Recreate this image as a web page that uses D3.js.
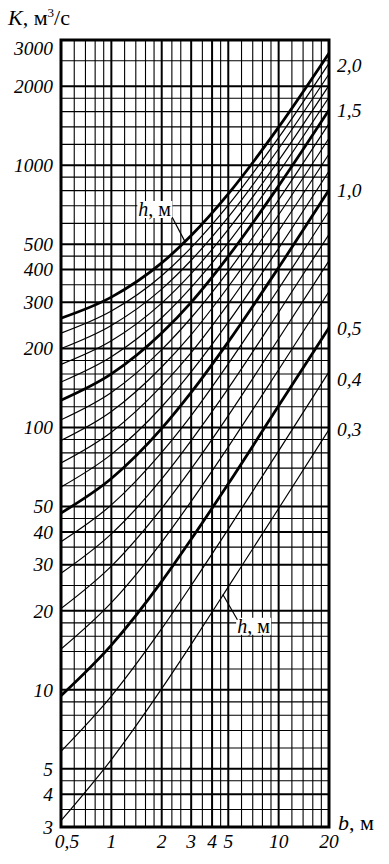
<!DOCTYPE html>
<html lang="ru">
<head>
  <meta charset="UTF-8">
  <title>K(b, h)</title>
  <script src="https://d3js.org/d3.v7.min.js"></script>
  <style>
    html, body { margin: 0; padding: 0; background: #fff; }
    text { font-family: "Liberation Serif", "DejaVu Serif", serif; fill: #000; }
    .num { font-style: italic; font-size: 19.5px; }
    .grid { stroke: #000; fill: none; }
    .curve { fill: none; stroke: #000; stroke-linejoin: round; }
  </style>
</head>
<body>
<script>
  // b, м - ширина по дну
  const bValues = [0.5, 1, 2, 3, 5, 10, 20];
  // h, м - глубина, по кривой на каждое значение
  const hValues = [0.3, 0.4, 0.5, 0.6, 0.7, 0.8, 0.9, 1.0, 1.1, 1.2, 1.3, 1.4, 1.5, 1.6, 1.7, 1.8, 1.9, 2.0];
  // K, м3/с (строка на каждое h, столбец на каждое b)
  const kValues = [
    [3.17, 5.42, 10.1, 14.9, 24.7, 49.1, 98.2],
    [5.83, 9.47, 17.1, 25.0, 41.0, 81.5, 163],
    [9.49, 14.8, 25.9, 37.5, 61.0, 121, 240],
    [14.3, 21.5, 36.6, 52.3, 84.4, 166, 330],
    [20.4, 29.6, 49.2, 69.5, 111, 218, 432],
    [27.8, 39.3, 63.7, 89.2, 141, 275, 545],
    [36.7, 50.7, 80.4, 111, 175, 338, 669],
    [47.2, 63.9, 99.2, 136, 212, 407, 804],
    [59.3, 79.0, 120, 163, 252, 482, 949],
    [73.3, 96.0, 144, 193, 296, 562, 1103],
    [89.2, 115, 170, 226, 344, 647, 1267],
    [107, 136, 198, 262, 394, 738, 1440],
    [127, 160, 229, 300, 449, 834, 1623],
    [149, 186, 262, 342, 507, 936, 1815],
    [174, 214, 298, 386, 569, 1042, 2016],
    [200, 245, 337, 434, 634, 1155, 2226],
    [229, 278, 379, 485, 704, 1273, 2444],
    [261, 314, 424, 539, 777, 1396, 2671]
  ];
  const boldH = [0.5, 1.0, 1.5, 2.0];

  // подписи кривых справа
  const hLabelValues = [2.0, 1.5, 1.0, 0.5, 0.4, 0.3];
  const hLabels = ['2,0', '1,5', '1,0', '0,5', '0,4', '0,3'];

  // деления осей
  const xTicks = [0.5, 1, 2, 3, 4, 5, 10, 20];
  const xTickLabels = ['0,5', '1', '2', '3', '4', '5', '10', '20'];
  const xMinor = [0.6, 0.7, 0.8, 0.9, 1.2, 1.4, 1.6, 1.8, 2.3, 2.6, 3.5, 4.5, 6, 7, 8, 9, 12, 14, 16, 18];
  const yTicks = [3, 4, 5, 10, 20, 30, 40, 50, 100, 200, 300, 400, 500, 1000, 2000, 3000];
  const yMinor = [3.5, 4.5, 6, 7, 8, 9, 12, 14, 16, 18, 25, 35, 45, 60, 70, 80, 90,
                  120, 140, 160, 180, 250, 350, 450, 600, 700, 800, 900, 1200, 1400, 1600, 1800, 2500];

  const W = 389, H = 864;
  const margin = {top: 40, left: 61, right: 60, bottom: 37};

  const svg = d3.select('body').append('svg').attr('width', W).attr('height', H);

  const x = d3.scaleLog().domain([0.5, 20]).range([margin.left, W - margin.right]);
  const y = d3.scaleLog().domain([3, 3000]).range([H - margin.bottom, margin.top]);
  const [x0, x1] = x.range();
  const [y0, y1] = [y(3000), y(3)];

  // сетка
  const grid = svg.append('g');
  grid.selectAll('.vmin').data(xMinor).join('line').attr('class', 'grid')
    .attr('x1', d => x(d)).attr('x2', d => x(d)).attr('y1', y0).attr('y2', y1).attr('stroke-width', 1.1);
  grid.selectAll('.hmin').data(yMinor).join('line').attr('class', 'grid')
    .attr('y1', d => y(d)).attr('y2', d => y(d)).attr('x1', x0).attr('x2', x1).attr('stroke-width', 1.1);
  grid.selectAll('.vmaj').data(xTicks.slice(1, -1)).join('line').attr('class', 'grid')
    .attr('x1', d => x(d)).attr('x2', d => x(d)).attr('y1', y0).attr('y2', y1).attr('stroke-width', 2);
  grid.selectAll('.hmaj').data(yTicks.slice(1, -1)).join('line').attr('class', 'grid')
    .attr('y1', d => y(d)).attr('y2', d => y(d)).attr('x1', x0).attr('x2', x1).attr('stroke-width', 2);

  // кривые
  svg.append('clipPath').attr('id', 'plot').append('rect')
    .attr('x', x0).attr('y', y0).attr('width', x1 - x0).attr('height', y1 - y0);

  const line = d3.line().x(d => x(d[0])).y(d => y(d[1])).curve(d3.curveMonotoneX);
  const series = hValues.map((h, i) => ({h, bold: boldH.includes(h), pts: bValues.map((b, j) => [b, kValues[i][j]])}));

  svg.append('g').attr('clip-path', 'url(#plot)')
    .selectAll('path').data(series.sort((a, b) => a.bold - b.bold)).join('path')
    .attr('class', 'curve')
    .attr('stroke-width', d => d.bold ? 2.8 : 1.2)
    .attr('d', d => line(d.pts));

  // рамка
  svg.append('rect').attr('x', x0).attr('y', y0).attr('width', x1 - x0).attr('height', y1 - y0)
    .attr('fill', 'none').attr('stroke', '#000').attr('stroke-width', 3);

  // подписи оси K
  svg.append('g').selectAll('text').data(yTicks).join('text')
    .attr('class', 'num').attr('text-anchor', 'end')
    .attr('x', x0 - 8).attr('y', d => y(d)).attr('dy', d => d === 3000 ? '0.75em' : '0.35em')
    .text(d => d);

  // подписи оси b
  svg.append('g').selectAll('text').data(xTicks).join('text')
    .attr('class', 'num').attr('text-anchor', 'middle')
    .attr('x', (d, i) => x(d) + (i === 0 ? 6 : 0)).attr('y', y1 + 21)
    .text((d, i) => xTickLabels[i]);

  // подписи h справа
  const lastK = h => kValues[hValues.indexOf(h)][bValues.length - 1];
  const labelShift = {2.0: 12, 0.4: 7};
  svg.append('g').selectAll('text').data(hLabelValues).join('text')
    .attr('class', 'num').attr('x', x1 + 8)
    .attr('y', d => y(lastK(d)) + (labelShift[d] || 0)).attr('dy', '0.35em')
    .text((d, i) => hLabels[i]);

  // заголовки осей
  const kTitle = svg.append('text').attr('x', 8).attr('y', 25).style('font-size', '22px');
  kTitle.append('tspan').style('font-style', 'italic').text('K');
  kTitle.append('tspan').text(', м');
  kTitle.append('tspan').attr('dy', -8).style('font-size', '13px').text('3');
  kTitle.append('tspan').attr('dy', 8).text('/с');

  const bTitle = svg.append('text').attr('x', x1 + 9).attr('y', y1 + 3).style('font-size', '22px');
  bTitle.append('tspan').style('font-style', 'italic').text('b');
  bTitle.append('tspan').text(', м');

  // выноски "h, м" (с белой подложкой)
  function hNote(tb, tk, from, to) {
    const g = svg.append('g');
    const bg = g.append('rect').attr('fill', '#fff');
    const t = g.append('text').attr('x', x(tb)).attr('y', y(tk)).style('font-size', '20px');
    t.append('tspan').style('font-style', 'italic').text('h');
    t.append('tspan').text(', м');
    const bb = t.node().getBBox();
    bg.attr('x', bb.x - 1).attr('y', bb.y + 3).attr('width', bb.width + 2).attr('height', bb.height - 5);
    svg.append('line').attr('x1', x(from[0])).attr('y1', y(from[1]))
      .attr('x2', x(to[0])).attr('y2', y(to[1])).attr('stroke', '#000').attr('stroke-width', 1.2);
  }
  hNote(1.45, 640, [2.31, 633], [2.76, 510]);
  hNote(5.65, 16.5, [5.67, 18.5], [4.64, 23.1]);
</script>
</body>
</html>
